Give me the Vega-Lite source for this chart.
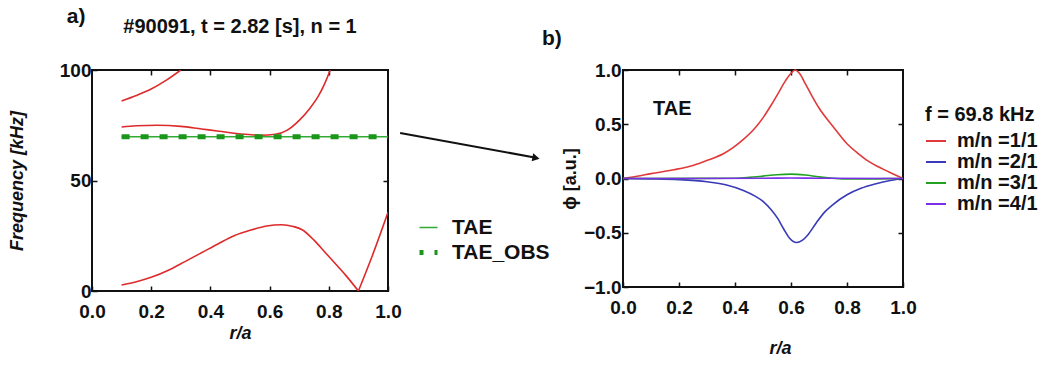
{
  "$schema": "https://vega.github.io/schema/vega-lite/v6.json",
  "background": "white",
  "padding": {"left": 7, "top": 4, "right": 5, "bottom": 4},
  "spacing": 235,
  "bounds": "flush",
  "config": {
    "font": "Liberation Sans",
    "view": {"stroke": "#111111", "strokeWidth": 2},
    "axis": {
      "grid": false, "domain": false, "ticks": true, "tickColor": "#111111", "tickWidth": 1.5, "tickSize": -5,
      "labelFont": "Liberation Sans", "labelFontSize": 19, "labelFontWeight": "bold", "labelColor": "#111111",
      "titleFont": "Liberation Sans", "titleFontSize": 18, "titleFontWeight": "bold", "titleColor": "#111111",
      "labelPadding": 6, "labelOverlap": false, "labelFlush": false
    },
    "axisBottom": {"labelPadding": 16},
    "legend": {
      "labelFont": "Liberation Sans", "labelFontSize": 20, "labelFontWeight": "bold", "labelColor": "#111111",
      "titleFont": "Liberation Sans", "titleFontSize": 20, "titleFontWeight": "bold", "titleColor": "#111111"
    },
    "title": {"font": "Liberation Sans", "fontWeight": "bold", "color": "#111111"}
  },
  "datasets": {
    "cont": [
      {"branch": "c1", "r": 0.1, "f": 86.0}, {"branch": "c1", "r": 0.15, "f": 88.5}, {"branch": "c1", "r": 0.2, "f": 91.4}, {"branch": "c1", "r": 0.25, "f": 95.3}, {"branch": "c1", "r": 0.3, "f": 100.0},
      {"branch": "c2", "r": 0.1, "f": 74.2}, {"branch": "c2", "r": 0.15, "f": 74.8}, {"branch": "c2", "r": 0.22, "f": 75.0}, {"branch": "c2", "r": 0.3, "f": 74.5}, {"branch": "c2", "r": 0.37, "f": 73.3}, {"branch": "c2", "r": 0.43, "f": 72.3}, {"branch": "c2", "r": 0.48, "f": 71.4}, {"branch": "c2", "r": 0.53, "f": 70.8}, {"branch": "c2", "r": 0.57, "f": 70.5}, {"branch": "c2", "r": 0.62, "f": 70.9}, {"branch": "c2", "r": 0.66, "f": 72.8}, {"branch": "c2", "r": 0.7, "f": 77.2}, {"branch": "c2", "r": 0.735, "f": 82.5}, {"branch": "c2", "r": 0.765, "f": 88.3}, {"branch": "c2", "r": 0.785, "f": 93.5}, {"branch": "c2", "r": 0.805, "f": 100.0},
      {"branch": "c3", "r": 0.1, "f": 2.7}, {"branch": "c3", "r": 0.15, "f": 4.2}, {"branch": "c3", "r": 0.2, "f": 6.2}, {"branch": "c3", "r": 0.26, "f": 9.5}, {"branch": "c3", "r": 0.314, "f": 13.3}, {"branch": "c3", "r": 0.37, "f": 17.3}, {"branch": "c3", "r": 0.427, "f": 21.4}, {"branch": "c3", "r": 0.48, "f": 25.0}, {"branch": "c3", "r": 0.54, "f": 27.7}, {"branch": "c3", "r": 0.59, "f": 29.4}, {"branch": "c3", "r": 0.64, "f": 30.0}, {"branch": "c3", "r": 0.68, "f": 29.2}, {"branch": "c3", "r": 0.71, "f": 27.7}, {"branch": "c3", "r": 0.75, "f": 23.0}, {"branch": "c3", "r": 0.79, "f": 17.1}, {"branch": "c3", "r": 0.83, "f": 11.2}, {"branch": "c3", "r": 0.856, "f": 7.3}, {"branch": "c3", "r": 0.9, "f": 0.0},
      {"branch": "c4", "r": 0.9, "f": 0.0}, {"branch": "c4", "r": 0.946, "f": 15.6}, {"branch": "c4", "r": 1.0, "f": 35.6}
    ],
    "tae": [
      {"series": "TAE", "r": 0.1, "f": 69.8}, {"series": "TAE", "r": 1.0, "f": 69.8},
      {"series": "TAE_OBS", "r": 0.1, "f": 69.8}, {"series": "TAE_OBS", "r": 1.0, "f": 69.8}
    ],
    "modes": [
      {"mode": "m/n =1/1", "r": 0.0, "phi": 0.0}, {"mode": "m/n =1/1", "r": 0.05, "phi": 0.02}, {"mode": "m/n =1/1", "r": 0.1, "phi": 0.045}, {"mode": "m/n =1/1", "r": 0.18, "phi": 0.08}, {"mode": "m/n =1/1", "r": 0.25, "phi": 0.12}, {"mode": "m/n =1/1", "r": 0.304, "phi": 0.17}, {"mode": "m/n =1/1", "r": 0.36, "phi": 0.23}, {"mode": "m/n =1/1", "r": 0.43, "phi": 0.36}, {"mode": "m/n =1/1", "r": 0.47, "phi": 0.46}, {"mode": "m/n =1/1", "r": 0.503, "phi": 0.57}, {"mode": "m/n =1/1", "r": 0.53, "phi": 0.68}, {"mode": "m/n =1/1", "r": 0.553, "phi": 0.78}, {"mode": "m/n =1/1", "r": 0.58, "phi": 0.9}, {"mode": "m/n =1/1", "r": 0.6, "phi": 0.97}, {"mode": "m/n =1/1", "r": 0.615, "phi": 1.0}, {"mode": "m/n =1/1", "r": 0.63, "phi": 0.97}, {"mode": "m/n =1/1", "r": 0.652, "phi": 0.87}, {"mode": "m/n =1/1", "r": 0.675, "phi": 0.76}, {"mode": "m/n =1/1", "r": 0.7, "phi": 0.65}, {"mode": "m/n =1/1", "r": 0.75, "phi": 0.48}, {"mode": "m/n =1/1", "r": 0.8, "phi": 0.32}, {"mode": "m/n =1/1", "r": 0.84, "phi": 0.23}, {"mode": "m/n =1/1", "r": 0.876, "phi": 0.16}, {"mode": "m/n =1/1", "r": 0.91, "phi": 0.11}, {"mode": "m/n =1/1", "r": 0.95, "phi": 0.06}, {"mode": "m/n =1/1", "r": 1.0, "phi": 0.0},
      {"mode": "m/n =2/1", "r": 0.0, "phi": 0.0}, {"mode": "m/n =2/1", "r": 0.1, "phi": -0.003}, {"mode": "m/n =2/1", "r": 0.2, "phi": -0.01}, {"mode": "m/n =2/1", "r": 0.3, "phi": -0.03}, {"mode": "m/n =2/1", "r": 0.37, "phi": -0.06}, {"mode": "m/n =2/1", "r": 0.43, "phi": -0.11}, {"mode": "m/n =2/1", "r": 0.47, "phi": -0.16}, {"mode": "m/n =2/1", "r": 0.5, "phi": -0.21}, {"mode": "m/n =2/1", "r": 0.53, "phi": -0.29}, {"mode": "m/n =2/1", "r": 0.553, "phi": -0.37}, {"mode": "m/n =2/1", "r": 0.575, "phi": -0.47}, {"mode": "m/n =2/1", "r": 0.595, "phi": -0.55}, {"mode": "m/n =2/1", "r": 0.62, "phi": -0.59}, {"mode": "m/n =2/1", "r": 0.64, "phi": -0.57}, {"mode": "m/n =2/1", "r": 0.66, "phi": -0.52}, {"mode": "m/n =2/1", "r": 0.69, "phi": -0.41}, {"mode": "m/n =2/1", "r": 0.72, "phi": -0.31}, {"mode": "m/n =2/1", "r": 0.75, "phi": -0.24}, {"mode": "m/n =2/1", "r": 0.8, "phi": -0.15}, {"mode": "m/n =2/1", "r": 0.85, "phi": -0.09}, {"mode": "m/n =2/1", "r": 0.9, "phi": -0.05}, {"mode": "m/n =2/1", "r": 0.95, "phi": -0.02}, {"mode": "m/n =2/1", "r": 1.0, "phi": 0.0},
      {"mode": "m/n =3/1", "r": 0.0, "phi": 0.0}, {"mode": "m/n =3/1", "r": 0.4, "phi": 0.003}, {"mode": "m/n =3/1", "r": 0.45, "phi": 0.01}, {"mode": "m/n =3/1", "r": 0.5, "phi": 0.022}, {"mode": "m/n =3/1", "r": 0.55, "phi": 0.035}, {"mode": "m/n =3/1", "r": 0.6, "phi": 0.04}, {"mode": "m/n =3/1", "r": 0.65, "phi": 0.032}, {"mode": "m/n =3/1", "r": 0.7, "phi": 0.015}, {"mode": "m/n =3/1", "r": 0.75, "phi": 0.003}, {"mode": "m/n =3/1", "r": 0.8, "phi": -0.005}, {"mode": "m/n =3/1", "r": 0.9, "phi": -0.003}, {"mode": "m/n =3/1", "r": 1.0, "phi": 0.0},
      {"mode": "m/n =4/1", "r": 0.0, "phi": 0.0}, {"mode": "m/n =4/1", "r": 0.5, "phi": 0.002}, {"mode": "m/n =4/1", "r": 0.6, "phi": 0.004}, {"mode": "m/n =4/1", "r": 0.7, "phi": 0.002}, {"mode": "m/n =4/1", "r": 1.0, "phi": 0.0}
    ]
  },
  "resolve": {"scale": {"color": "independent", "strokeDash": "independent", "strokeWidth": "independent"}, "legend": {"color": "independent"}},
  "hconcat": [
    {
      "width": 296,
      "height": 221,
      "layer": [
        {
          "data": {"name": "cont"},
          "mark": {"type": "line", "color": "#dd2a2a", "strokeWidth": 1.6, "interpolate": "monotone", "clip": true},
          "encoding": {
            "x": {"field": "r", "type": "quantitative", "scale": {"domain": [0, 1]}, "axis": {"values": [0, 0.2, 0.4, 0.6, 0.8, 1], "format": ".1f", "title": "r/a", "titleFontStyle": "italic", "titlePadding": 3}},
            "y": {"field": "f", "type": "quantitative", "scale": {"domain": [0, 100]}, "axis": {"values": [0, 50, 100], "format": "d", "title": "Frequency [kHz]", "titleFontStyle": "italic", "titlePadding": 33}},
            "detail": {"field": "branch"}
          }
        },
        {
          "data": {"name": "tae"},
          "mark": {"type": "line", "clip": true},
          "encoding": {
            "x": {"field": "r", "type": "quantitative", "axis": null},
            "y": {"field": "f", "type": "quantitative", "axis": null},
            "color": {"field": "series", "type": "nominal", "scale": {"domain": ["TAE", "TAE_OBS"], "range": ["#33aa33", "#1a961a"]},
              "legend": {"title": null, "orient": "none", "legendX": 325, "legendY": 147, "symbolType": "stroke", "symbolSize": 324, "labelOffset": 12, "rowPadding": 3, "labelFontSize": 21, "symbolDashOffset": 4}},
            "strokeDash": {"field": "series", "type": "nominal", "scale": {"domain": ["TAE", "TAE_OBS"], "range": [[1, 0], [8, 11]]}},
            "strokeWidth": {"field": "series", "type": "nominal", "scale": {"domain": ["TAE", "TAE_OBS"], "range": [1.3, 5]}}
          }
        },
        {
          "data": {"values": [{}]},
          "mark": {"type": "text", "text": "a)", "fontSize": 21, "fontWeight": "bold", "align": "left", "baseline": "middle", "color": "#111111", "clip": false},
          "encoding": {"x": {"datum": -0.085, "type": "quantitative", "axis": null}, "y": {"datum": 124, "type": "quantitative", "axis": null}}
        },
        {
          "data": {"values": [{}]},
          "mark": {"type": "text", "text": "#90091,  t = 2.82 [s], n = 1", "fontSize": 20, "fontWeight": "bold", "align": "center", "baseline": "middle", "color": "#111111", "clip": false},
          "encoding": {"x": {"datum": 0.5, "type": "quantitative", "axis": null}, "y": {"datum": 119.5, "type": "quantitative", "axis": null}}
        },
        {
          "data": {"values": [{}]},
          "mark": {"type": "rule", "strokeWidth": 2, "color": "#111111", "clip": false},
          "encoding": {"x": {"datum": 1.041, "type": "quantitative", "axis": null}, "y": {"datum": 71.5, "type": "quantitative", "axis": null}, "x2": {"datum": 1.5}, "y2": {"datum": 60.3}}
        },
        {
          "data": {"values": [{}]},
          "mark": {"type": "point", "shape": "triangle-right", "filled": true, "color": "#111111", "size": 70, "angle": 11, "opacity": 1, "clip": false},
          "encoding": {"x": {"datum": 1.5, "type": "quantitative", "axis": null}, "y": {"datum": 60.2, "type": "quantitative", "axis": null}}
        },
        {
          "data": {"name": "cont"},
          "mark": {"type": "line", "strokeOpacity": 0},
          "encoding": {
            "x": {"field": "r", "type": "quantitative", "axis": {"orient": "top", "labels": false, "title": null, "values": [0.2, 0.4, 0.6, 0.8]}},
            "y": {"field": "f", "type": "quantitative", "axis": {"orient": "right", "labels": false, "title": null, "values": [50]}},
            "detail": {"field": "branch"}
          }
        }
      ],
      "resolve": {"axis": {"x": "independent", "y": "independent"}}
    },
    {
      "width": 280,
      "height": 217,
      "title": {"text": "b)", "fontSize": 21, "anchor": "start", "frame": "group", "dx": -81, "offset": 12},
      "layer": [
        {
          "data": {"name": "modes"},
          "mark": {"type": "line", "strokeWidth": 1.6, "interpolate": "monotone"},
          "encoding": {
            "x": {"field": "r", "type": "quantitative", "scale": {"domain": [0, 1]}, "axis": {"values": [0, 0.2, 0.4, 0.6, 0.8, 1], "format": ".1f", "title": "r/a", "titleFontStyle": "italic", "titlePadding": 22, "titleX": 157}},
            "y": {"field": "phi", "type": "quantitative", "scale": {"domain": [-1, 1]}, "axis": {"values": [-1, -0.5, 0, 0.5, 1], "format": ".1f", "title": "ϕ [a.u.]", "titlePadding": 3.5, "labelPadding": 7}},
            "color": {"field": "mode", "type": "nominal", "sort": null, "scale": {"domain": ["m/n =1/1", "m/n =2/1", "m/n =3/1", "m/n =4/1"], "range": ["#e03a3a", "#3a3ab8", "#22a022", "#7b2fe8"]},
              "legend": {"title": "f = 69.8 kHz", "orient": "none", "legendX": 302, "legendY": 35, "symbolType": "stroke", "symbolSize": 400, "symbolStrokeWidth": 2, "labelOffset": 10, "rowPadding": 0, "titlePadding": 5}}
          }
        },
        {
          "data": {"values": [{}]},
          "mark": {"type": "text", "text": "TAE", "fontSize": 20, "fontWeight": "bold", "align": "left", "baseline": "middle", "color": "#111111"},
          "encoding": {"x": {"datum": 0.107, "type": "quantitative", "axis": null}, "y": {"datum": 0.64, "type": "quantitative", "axis": null}}
        },
        {
          "data": {"name": "modes"},
          "mark": {"type": "line", "strokeOpacity": 0},
          "encoding": {
            "x": {"field": "r", "type": "quantitative", "axis": {"orient": "top", "labels": false, "title": null, "values": [0.2, 0.4, 0.6, 0.8]}},
            "y": {"field": "phi", "type": "quantitative", "axis": {"orient": "right", "labels": false, "title": null, "values": [-0.5, 0, 0.5]}},
            "detail": {"field": "mode"}
          }
        }
      ],
      "resolve": {"axis": {"x": "independent", "y": "independent"}}
    }
  ]
}
